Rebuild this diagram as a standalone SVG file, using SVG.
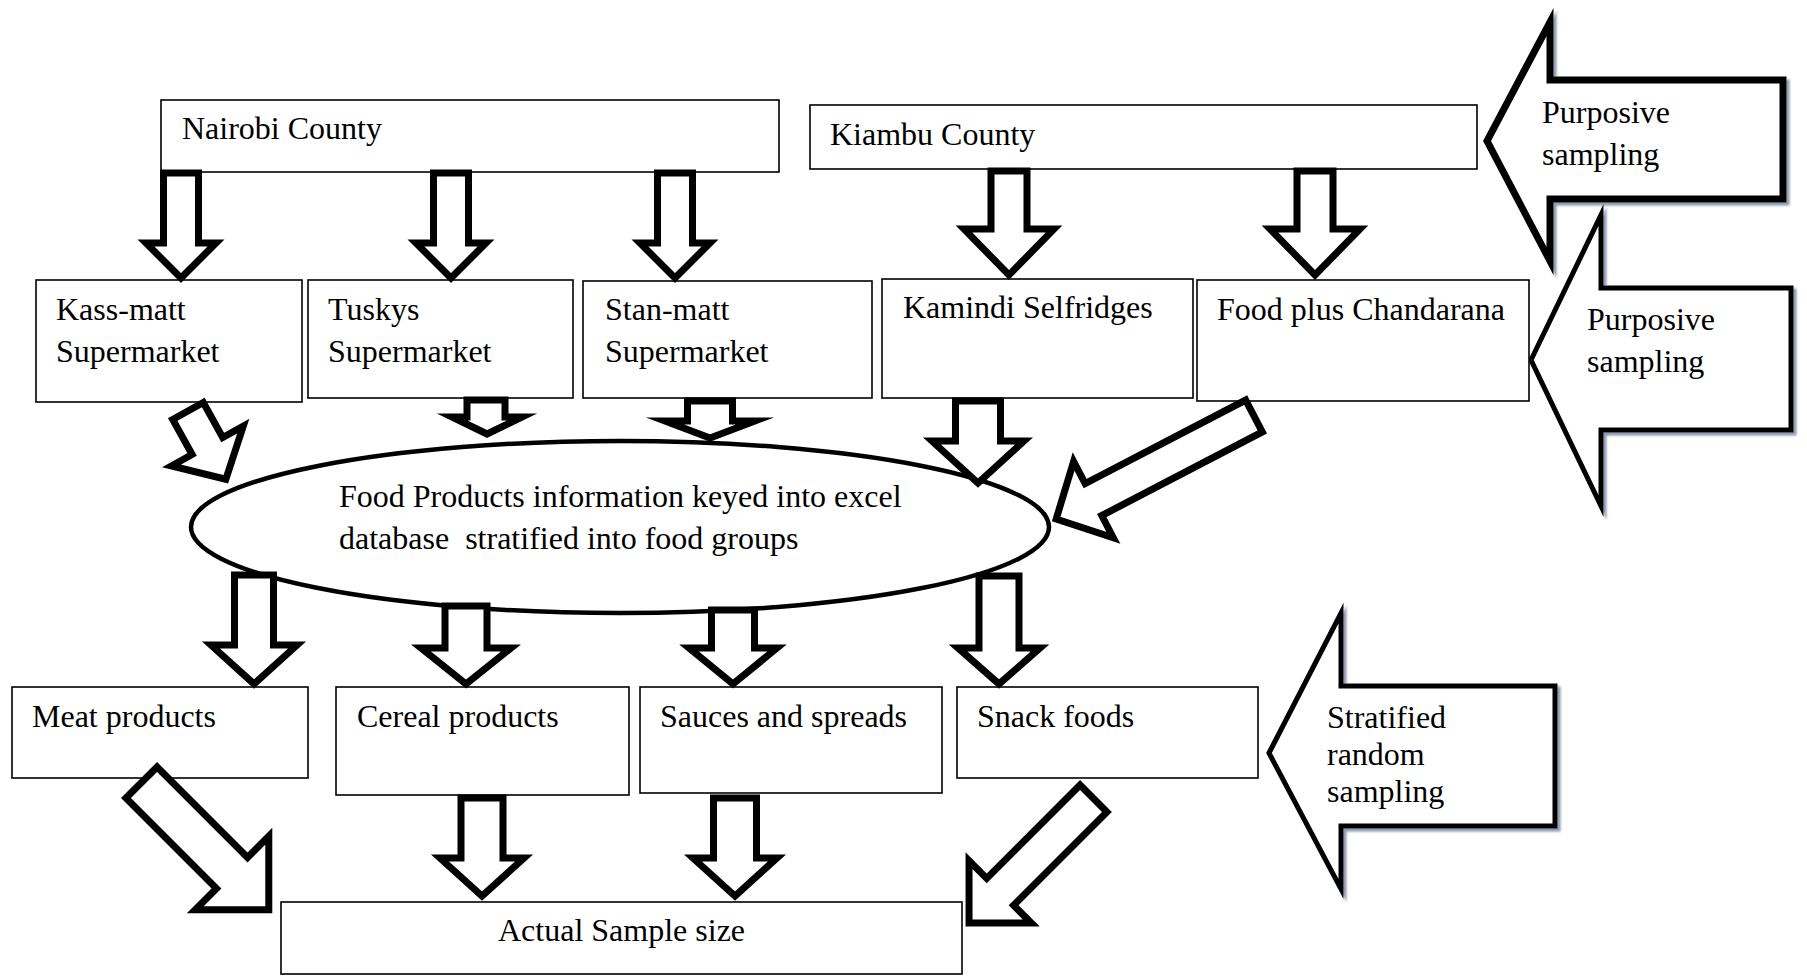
<svg xmlns="http://www.w3.org/2000/svg" width="1807" height="976" viewBox="0 0 1807 976">
<style>
.box{fill:#fff;stroke:#000;stroke-width:1.6}
.t{font-family:"Liberation Serif","Times New Roman",serif;font-size:32px;fill:#000}
.ar{fill:#fff;stroke:#000;stroke-width:7;stroke-linejoin:miter;stroke-miterlimit:10}
.big{fill:#fff;stroke:#000;stroke-linejoin:miter;stroke-miterlimit:10;filter:url(#sh)}
</style>
<defs>
<filter id="sh" x="-10%" y="-10%" width="130%" height="130%">
<feDropShadow dx="3" dy="3" stdDeviation="1.2" flood-color="#5a6a85" flood-opacity="0.7"/>
</filter>
</defs>
<rect width="1807" height="976" fill="#fff"/>

<g id="sampling-arrows">
<polygon class="big" stroke-width="7" points="1487,141 1550,22 1550,80 1783,80 1783,199 1550,199 1550,261"/>
<text class="t" x="1542" y="123">Purposive</text>
<text class="t" x="1542" y="165">sampling</text>
<polygon class="big" stroke-width="5" points="1531,360 1601,215 1601,288 1791,288 1791,430 1601,430 1601,506"/>
<text class="t" x="1587" y="330">Purposive</text>
<text class="t" x="1587" y="372">sampling</text>
<polygon class="big" stroke-width="5" points="1269,753 1341,613 1341,686 1555,686 1555,826 1341,826 1341,889"/>
<text class="t" x="1327" y="728">Stratified</text>
<text class="t" x="1327" y="765">random</text>
<text class="t" x="1327" y="802">sampling</text>
</g>

<g id="nairobi"><rect class="box" x="161" y="100" width="618" height="72"/><text class="t" x="182" y="139">Nairobi County</text></g>
<g id="kiambu"><rect class="box" x="810" y="105" width="667" height="64"/><text class="t" x="830" y="145">Kiambu County</text></g>

<g id="kassmatt"><rect class="box" x="36" y="280" width="266" height="122"/><text class="t" x="56" y="320">Kass-matt</text><text class="t" x="56" y="362">Supermarket</text></g>
<g id="tuskys"><rect class="box" x="308" y="280" width="265" height="118"/><text class="t" x="328" y="320">Tuskys</text><text class="t" x="328" y="362">Supermarket</text></g>
<g id="stanmatt"><rect class="box" x="583" y="281" width="289" height="117"/><text class="t" x="605" y="320">Stan-matt</text><text class="t" x="605" y="362">Supermarket</text></g>
<g id="kamindi"><rect class="box" x="882" y="279" width="311" height="119"/><text class="t" x="903" y="318">Kamindi Selfridges</text></g>
<g id="foodplus"><rect class="box" x="1197" y="280" width="332" height="121"/><text class="t" x="1217" y="320">Food plus Chandarana</text></g>

<g id="database"><ellipse cx="620" cy="527" rx="429" ry="86" fill="#fff" stroke="#000" stroke-width="4.5"/>
<text class="t" x="339" y="507">Food Products information keyed into excel</text>
<text class="t" x="339" y="549" xml:space="preserve">database  stratified into food groups</text></g>

<g id="meat"><rect class="box" x="12" y="687" width="296" height="91"/><text class="t" x="32" y="727">Meat products</text></g>
<g id="cereal"><rect class="box" x="336" y="687" width="293" height="108"/><text class="t" x="357" y="727">Cereal products</text></g>
<g id="sauces"><rect class="box" x="640" y="687" width="302" height="106"/><text class="t" x="660" y="727">Sauces and spreads</text></g>
<g id="snack"><rect class="box" x="957" y="687" width="301" height="91"/><text class="t" x="977" y="727">Snack foods</text></g>

<g id="actual"><rect class="box" x="281" y="902" width="681" height="72" stroke-width="2"/><text class="t" x="498" y="941">Actual Sample size</text></g>

<g id="connectors">
<polygon class="ar" points="163.5,173 198.5,173 198.5,243 216,243 181,278 146,243 163.5,243"/>
<polygon class="ar" points="433.5,173 468.5,173 468.5,243 486,243 451,278 416,243 433.5,243"/>
<polygon class="ar" points="657.5,173 692.5,173 692.5,243 710,243 675,278 640,243 657.5,243"/>
<polygon class="ar" points="991,171 1027,171 1027,229 1054,229 1009,275 964,229 991,229"/>
<polygon class="ar" points="1297,171 1333,171 1333,229 1360,229 1315,275 1270,229 1297,229"/>

<path class="ar" transform="translate(188,411) rotate(-29)" d="M-17.5,0 L17.5,0 L17.5,40 L41,40 L0,78 L-41,40 L-17.5,40 Z"/>
<polygon class="ar" points="467,400 505,400 505,417 522,417 487,434 452,417 467,417"/>
<polygon class="ar" points="687.5,401 732.5,401 732.5,421 755,421 710,438 665,421 687.5,421"/>
<polygon class="ar" points="955.5,401 1000.5,401 1000.5,441 1024,441 978,483 932,441 955.5,441"/>
<path class="ar" transform="translate(1254,416) rotate(62.5)" d="M-18,0 L18,0 L18,181 L43,181 L0,223 L-43,181 L-18,181 Z"/>

<polygon class="ar" points="234.5,575 273.5,575 273.5,645 297,645 254,684 211,645 234.5,645"/>
<polygon class="ar" points="445,606 487,606 487,648 511,648 466,684 421,648 445,648"/>
<polygon class="ar" points="711.5,610 754.5,610 754.5,648 777,648 733,684 689,648 711.5,648"/>
<polygon class="ar" points="979,576 1019,576 1019,648 1040,648 999,684 958,648 979,648"/>

<path class="ar" transform="translate(141.5,782.5) rotate(-45)" d="M-22,0 L22,0 L22,128 L52,128 L0,180 L-52,128 L-22,128 Z"/>
<polygon class="ar" points="461,798 503,798 503,858 524,858 482,896 440,858 461,858"/>
<polygon class="ar" points="713.5,798 756.5,798 756.5,858 777,858 735,896 693,858 713.5,858"/>
<path class="ar" transform="translate(1093.5,798.5) rotate(45)" d="M-19,0 L19,0 L19,132 L44,132 L0,176 L-44,132 L-19,132 Z"/>
</g>
</svg>
